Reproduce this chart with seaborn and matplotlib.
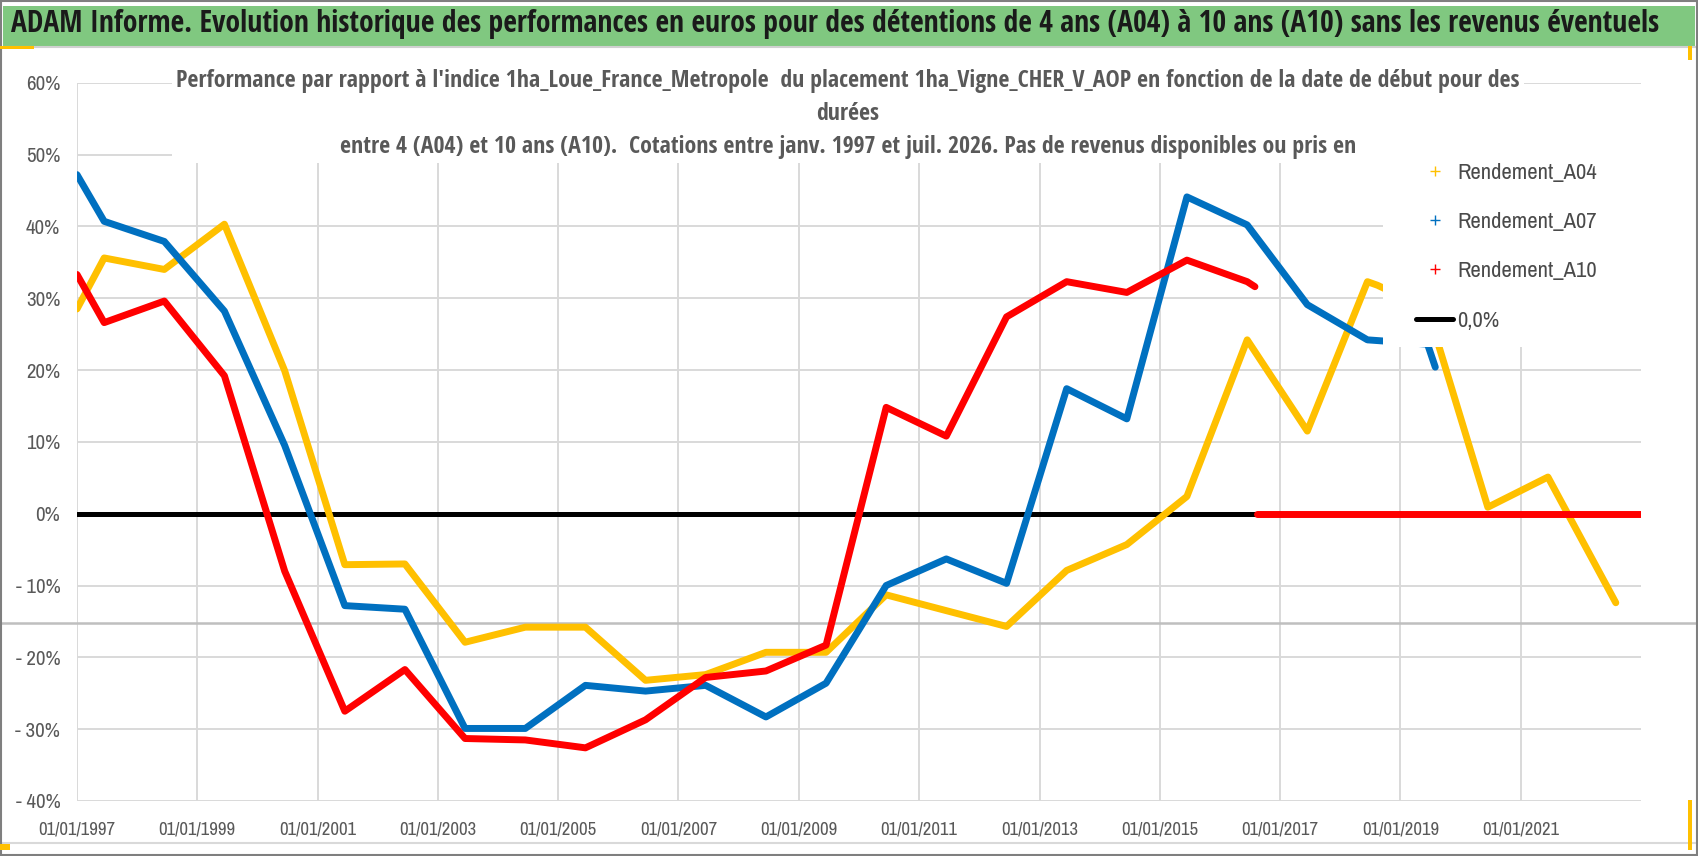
import pandas as pd
import matplotlib
matplotlib.use("Agg")
import matplotlib.pyplot as plt
import matplotlib.dates as mdates
from matplotlib.lines import Line2D
from matplotlib.patches import Rectangle
from matplotlib import font_manager
import seaborn as sns

# valeurs (en %)
dates = ["1997-01-01", "1997-06-15", "1998-06-15", "1999-06-15", "2000-06-15",
         "2001-06-15", "2002-06-15", "2003-06-15", "2004-06-15", "2005-06-15",
         "2006-06-15", "2007-06-15", "2008-06-15", "2009-06-15", "2010-06-15",
         "2011-06-15", "2012-06-15", "2013-06-15", "2014-06-15", "2015-06-15",
         "2016-06-15", "2017-06-15", "2018-06-15"]

rendement_a04 = [28.5, 35.6, 34.0, 40.3, 19.9, -7.1, -7.0, -17.9, -15.8, -15.8,
                 -23.2, -22.4, -19.3, -19.3, -11.3, -13.5, -15.7, -7.9, -4.3, 2.4,
                 24.2, 11.5, 32.3]
dates_a04_fin = ["2018-08-15", "2019-06-15", "2020-06-15", "2021-06-15", "2022-08-01"]
rendement_a04_fin = [31.8, 28.5, 0.9, 5.1, -12.4]

rendement_a07 = [47.2, 40.7, 37.9, 28.2, 9.5, -12.8, -13.3, -29.9, -29.9, -23.9,
                 -24.7, -23.9, -28.3, -23.6, -10.0, -6.3, -9.7, 17.4, 13.2, 44.1,
                 40.2, 29.1, 24.2]
dates_a07_fin = ["2019-06-15", "2019-08-01"]
rendement_a07_fin = [23.6, 20.4]

rendement_a10 = [33.3, 26.6, 29.6, 19.2, -8.0, -27.5, -21.7, -31.3, -31.5, -32.6,
                 -28.7, -22.8, -21.9, -18.3, 14.8, 10.8, 27.4, 32.3, 30.8, 35.3,
                 32.3]
dates_a10_fin = ["2016-08-01"]
rendement_a10_fin = [31.6]
dates_a10_zero = ["2016-08-15", "2023-01-01"]
valeurs_a10_zero = [0.0, 0.0]

dates_zero = ["1997-01-01", "2023-01-01"]
valeurs_zero = [0.0, 0.0]

titre = ("ADAM Informe. Evolution historique des performances en euros pour des "
         "détentions de 4 ans (A04) à 10 ans (A10) sans les revenus éventuels")
sous_titre = ("Performance par rapport à l'indice 1ha_Loue_France_Metropole  du placement "
              "1ha_Vigne_CHER_V_AOP en fonction de la date de début pour des\ndurées\n"
              "entre 4 (A04) et 10 ans (A10).  Cotations entre janv. 1997 et juil. 2026. "
              "Pas de revenus disponibles ou pris en")

jaune = "#FFC000"
bleu = "#0070C0"
rouge = "#FF0000"
gris = "#595959"

sns.set_style("white")

# polices étroites (le graphique d'origine est en Calibri)
noms = {f.name for f in font_manager.fontManager.ttflist}
police_gras = "Open Sans Condensed" if "Open Sans Condensed" in noms else "Liberation Sans"
police = "Archivo Narrow" if "Archivo Narrow" in noms else "Liberation Sans"
plt.rcParams["font.family"] = [police, "DejaVu Sans"]
plt.rcParams["font.stretch"] = "condensed"

df04 = pd.DataFrame({"date": pd.to_datetime(dates + dates_a04_fin), "valeur": rendement_a04 + rendement_a04_fin})
df07 = pd.DataFrame({"date": pd.to_datetime(dates + dates_a07_fin), "valeur": rendement_a07 + rendement_a07_fin})
df10 = pd.DataFrame({"date": pd.to_datetime(dates[:21] + dates_a10_fin), "valeur": rendement_a10 + rendement_a10_fin})
df10z = pd.DataFrame({"date": pd.to_datetime(dates_a10_zero), "valeur": valeurs_a10_zero})
df0 = pd.DataFrame({"date": pd.to_datetime(dates_zero), "valeur": valeurs_zero})

fig = plt.figure(figsize=(16.98, 8.56), dpi=100)
fig.patch.set_facecolor("white")
ax = fig.add_axes([77 / 1698, 1 - 801 / 856, (1641 - 77) / 1698, (801 - 82.7) / 856])
ax.set_facecolor("none")

sns.lineplot(data=df0, x="date", y="valeur", color="black", linewidth=3.6, ax=ax, zorder=2)
sns.lineplot(data=df04, x="date", y="valeur", color=jaune, linewidth=5, ax=ax, zorder=3, sort=False)
sns.lineplot(data=df07, x="date", y="valeur", color=bleu, linewidth=5, ax=ax, zorder=4, sort=False)
sns.lineplot(data=df10, x="date", y="valeur", color=rouge, linewidth=5, ax=ax, zorder=5, sort=False)
sns.lineplot(data=df10z, x="date", y="valeur", color=rouge, linewidth=5, ax=ax, zorder=5)

ax.set_xlim(pd.Timestamp("1997-01-01"), pd.Timestamp("2023-01-01"))
ax.set_ylim(-40, 60)
ax.set_xticks(pd.to_datetime([f"{a}-01-01" for a in range(1997, 2022, 2)]))
ax.xaxis.set_major_formatter(mdates.DateFormatter("01/01/%Y"))
ax.set_yticks(range(-40, 61, 10))
ax.set_yticklabels([f"{v}%" if v >= 0 else f"- {abs(v)}%" for v in range(-40, 61, 10)])
ax.tick_params(axis="both", length=0, labelcolor=gris)
ax.tick_params(axis="x", pad=15, labelsize=13.5)
ax.tick_params(axis="y", pad=12, labelsize=15)
ax.grid(True, color="#D9D9D9", linewidth=1.4)
ax.set_axisbelow(True)
for s in ax.spines.values():
    s.set_visible(False)
ax.set_xlabel("")
ax.set_ylabel("")

# ligne grise parasite de la capture
ax.axhline(-15.2, xmin=-77 / 1564, xmax=(1698 - 77) / 1564, color="#BFBFBF",
           linewidth=1.8, zorder=1, clip_on=False)

# cadre blanc de la légende
ax.add_patch(Rectangle((0.835, 0.632), 0.175, 0.2785, transform=ax.transAxes,
                       facecolor="white", edgecolor="none", zorder=10, clip_on=False))
poignees = [Line2D([], [], color=jaune, marker="+", linestyle="none", markersize=7),
            Line2D([], [], color=bleu, marker="+", linestyle="none", markersize=7),
            Line2D([], [], color=rouge, marker="+", linestyle="none", markersize=7),
            Line2D([], [], color="black", linewidth=3.6)]
leg = fig.legend(poignees, ["Rendement_A04", "Rendement_A07", "Rendement_A10", "0,0%"],
                 loc="upper left", bbox_to_anchor=(1416 / 1698, 1 - 163 / 856),
                 frameon=False, prop={"family": police, "size": 16.3},
                 handlelength=1.64, handletextpad=0.18, labelspacing=1.29,
                 borderpad=0, borderaxespad=0, labelcolor="#4A4A4A")
leg.set_zorder(8)

# bandeau titre
fig.patches.append(Rectangle((0.002, 1 - 46 / 856), 0.996, 40 / 856, transform=fig.transFigure,
                             facecolor="#80C880", edgecolor="none", zorder=0))
fig.lines.append(Line2D([0, 1], [1 - 47 / 856, 1 - 47 / 856], transform=fig.transFigure,
                        color="#D0D0D0", linewidth=1.5))
fig.lines.append(Line2D([0, 1], [1 - 843 / 856, 1 - 843 / 856], transform=fig.transFigure,
                        color="#D9D9D9", linewidth=1.5))
fig.text(11 / 1698, 1 - 24 / 856, titre, ha="left", va="center", fontsize=21.3,
         family=police_gras, fontweight="bold", color="#1A1A1A")
fig.text(848 / 1698, 1 - 114 / 856, sous_titre, ha="center", va="center", fontsize=17.2,
         family=police_gras, fontweight="bold", color=gris, linespacing=1.5,
         multialignment="center", bbox=dict(facecolor="white", edgecolor="none", pad=3), zorder=5)

fig.patches.append(Rectangle((0.0008, 0.0012), 0.9984, 0.9976, transform=fig.transFigure,
                             facecolor="none", edgecolor="#7F7F7F", linewidth=1.5, zorder=20))
fig.patches.append(Rectangle((0, 1 - 49 / 856), 34 / 1698, 3 / 856, transform=fig.transFigure,
                             facecolor=jaune, edgecolor="none", zorder=21))
fig.patches.append(Rectangle((1688 / 1698, 1 - 60 / 856), 4 / 1698, 14 / 856, transform=fig.transFigure,
                             facecolor=jaune, edgecolor="none", zorder=21))
fig.patches.append(Rectangle((1688 / 1698, 6 / 856), 4 / 1698, 50 / 856, transform=fig.transFigure,
                             facecolor=jaune, edgecolor="none", zorder=21))
fig.patches.append(Rectangle((0, 6 / 856), 10 / 1698, 6 / 856, transform=fig.transFigure,
                             facecolor=jaune, edgecolor="none", zorder=21))

fig.savefig("out.png", dpi=100)
